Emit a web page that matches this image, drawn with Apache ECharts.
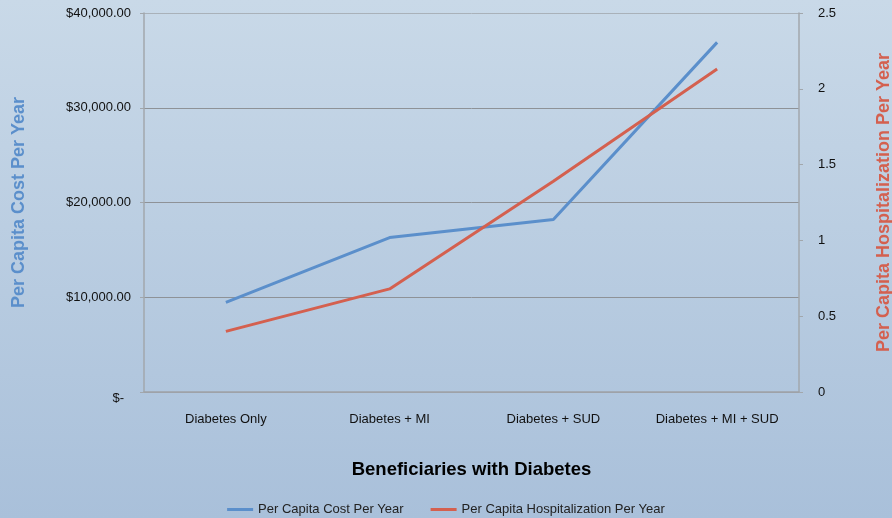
<!DOCTYPE html>
<html>
<head>
<meta charset="utf-8">
<script src="https://cdn.jsdelivr.net/npm/echarts@6/dist/echarts.min.js"></script>
<style>
    html, body { margin: 0; padding: 0; }
    #chart {
        width: 892px;
        height: 518px;
        background: linear-gradient(to bottom, #c9d9e8, #a9c0da);
    }
</style>
</head>
<body>
<div id="chart"></div>
<script>
let categories = ['Diabetes Only', 'Diabetes + MI', 'Diabetes + SUD', 'Diabetes + MI + SUD']
let costPerYear = [9470, 16300, 18200, 36900]
let hospPerYear = [0.40, 0.68, 1.39, 2.13]
let costTicks = [0, 10000, 20000, 30000, 40000]

// accounting style: zero shows as "$-", a bit lower and left
let fmtMoney = v => {
    if (v === 0) return '{z|$-}'
    return '$' + v.toLocaleString('en-US', { minimumFractionDigits: 2 })
}

let font = 'Liberation Sans, Arial, sans-serif'
let blue = '#5b8fcb'
let red = '#d4604f'

let chart = echarts.init(document.getElementById('chart'))

chart.setOption({
    textStyle: { fontFamily: font },
    grid: { left: 144, right: 93, top: 13, bottom: 126, outerBoundsMode: 'none', containLabel: false },
    legend: {
        bottom: -3,
        left: 'center',
        itemWidth: 26,
        itemHeight: 3,
        itemGap: 27,
        icon: 'rect',
        textStyle: { fontSize: 13, color: '#222', fontFamily: font },
        data: ['Per Capita Cost Per Year', 'Per Capita Hospitalization Per Year']
    },
    xAxis: {
        type: 'category',
        data: categories,
        boundaryGap: true,
        name: 'Beneficiaries with Diabetes',
        nameLocation: 'middle',
        nameGap: 68,
        nameTextStyle: { fontSize: 18.5, fontWeight: 'bold', color: '#000', fontFamily: font },
        axisLine: { lineStyle: { color: '#9ea3a8', width: 1.5 } },
        axisTick: { alignWithLabel: true, length: 4, lineStyle: { color: '#9ea3a8' } },
        axisLabel: { margin: 21, fontSize: 13, color: '#111', fontFamily: font }
    },
    yAxis: [
        {
            type: 'value',
            min: costTicks[0],
            max: costTicks[costTicks.length - 1],
            interval: 10000,
            name: 'Per Capita Cost Per Year',
            nameLocation: 'middle',
            nameGap: 116,
            nameTextStyle: { fontSize: 18, fontWeight: 'bold', color: blue, fontFamily: font },
            axisLine: { show: true, lineStyle: { color: '#a2a7ac', width: 1.5 } },
            axisTick: { show: true, length: 4, lineStyle: { color: '#a2a7ac' } },
            axisLabel: {
                formatter: fmtMoney,
                fontSize: 13,
                color: '#111',
                margin: 13,
                fontFamily: font,
                rich: { z: { fontSize: 13, color: '#111', fontFamily: font, padding: [12, 7, 0, 0] } }
            },
            splitLine: {
                show: true,
                lineStyle: { color: ['#9ea3a8', '#8e9297', '#8e9297', '#8e9297', '#a9b1b9'], width: 1 }
            }
        },
        {
            type: 'value',
            min: 0,
            max: 2.5,
            interval: 0.5,
            position: 'right',
            name: 'Per Capita Hospitalization Per Year',
            nameLocation: 'middle',
            nameGap: 76,
            nameRotate: 90,
            nameTextStyle: { fontSize: 18, fontWeight: 'bold', color: red, fontFamily: font },
            axisLine: { show: true, lineStyle: { color: '#a2a7ac', width: 1.5 } },
            axisTick: { show: true, length: 4, lineStyle: { color: '#a2a7ac' } },
            axisLabel: { fontSize: 13, color: '#111', margin: 19, fontFamily: font },
            splitLine: { show: false }
        }
    ],
    series: [
        {
            name: 'Per Capita Cost Per Year',
            type: 'line',
            yAxisIndex: 0,
            data: costPerYear,
            showSymbol: false,
            color: blue,
            lineStyle: { width: 3, color: blue }
        },
        {
            name: 'Per Capita Hospitalization Per Year',
            type: 'line',
            yAxisIndex: 1,
            data: hospPerYear,
            showSymbol: false,
            color: red,
            lineStyle: { width: 3, color: red }
        }
    ]
})
</script>
</body>
</html>
